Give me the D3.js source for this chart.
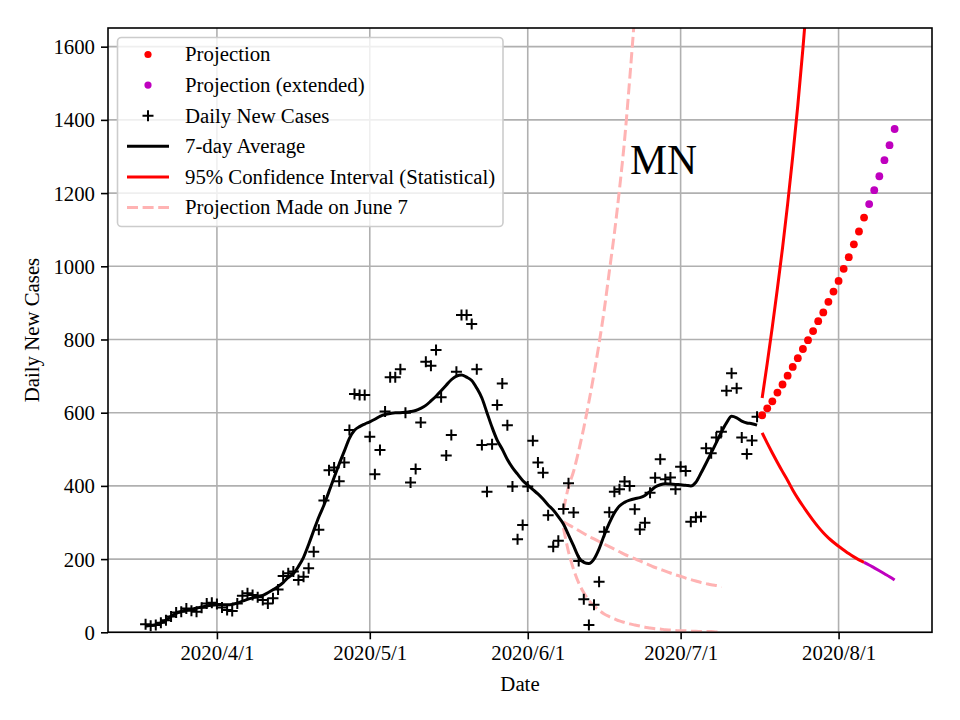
<!DOCTYPE html>
<html><head><meta charset="utf-8">
<script src="https://cdn.jsdelivr.net/npm/d3@7"></script>
<style>
body{margin:0;background:#fff}
svg{display:block}
svg text{font-family:"Liberation Serif","Times New Roman",serif !important;fill:#000}
</style>
</head><body>
<svg id="chart" width="960" height="720"></svg>
<script>
// ---------------- data (day index 0 = 2020-03-18) ----------------
const startDate = [2020, 2, 18];
const dailyCases = [22,18,20,26,33,43,54,56,65,59, 56,67,79,81,77,68,61,58,79,100,
  107,102,96,88,79,93,117,154,161,166, 143,152,175,
  220,280,360,443,450,413,464,553,
  651,648,648,534,432,498,603,697,697,719,
  600,409,446,573,739,728,771,642,483,539,
  712,867,867,842,719,512,384,514,621,680,
  566,398,254,293,398,523,464,436,320,234,
  250,337,407,327,195,90,20,75,138,275,
  328,384,391,412,400,336,281,299,381,422,
  473,418,423,391,452,441,302,314,316,503,
  489,532,548,660,708,667,532,487,524,589];
const avg7 = [17,19,21,26,33,44,52,57,61,63,
  66,69,72,74,75,75,75,76,80,85,
  90,94,98,101,108,116,125,136,150,160,
  180,205,240,278,315,347,385,423,460,495,
  530,552,562,569,575,582,590,595,598,600,
  600,601,603,606,612,620,632,645,660,675,
  690,700,703,697,688,667,640,600,560,525,
  500,472,450,432,415,402,390,378,364,348,
  334,316,296,266,236,205,191,188,200,228,
  265,298,326,345,355,361,365,368,374,385,
  397,403,406,405,404,403,402,400,410,435,
  462,490,518,547,572,590,586,577,572,570,566];
const projStart = 121;
const projection = [593,612,631,655,677,701,725,749,774,798,823,850,874,903,931,960,993,1025,1060,1095,1133];
const projExtStart = 142;
const projectionExt = [1170,1208,1246,1290,1331,1375];
const ciUpperStart = 121;
const ciUpper = [640,735,835,940,1050,1170,1300,1440,1595,1765,1950];
const ciLowerStart = 121;
const ciLower = [545,517,490,464,439,415,389,366,345,325,306,288,272,258,246,235,225,215,206,198,191];
const ciLowerExtStart = 141;
const ciLowerExt = [191,184,176,168,160,152,143];
const june7Start = 82;
const june7Upper = [335,397,440,496,559,630,706,789,880,985,1090,1210,1345,1510,1690,1890];
const june7Mid = [302,294,286,278,270,262,255,248,241,234,227,220,213,207,201,195,189,183,177,172,167,162,157,153,148,144,140,136,133,130,128,126];
const june7Lower = [285,220,172,135,108,87,72,60,50,43,37,31,27,23,20,17,14,12,10,9,7,6,5,4,4,3,3,2,2,2,1,1];
const lastDay = 147;
const xTickDates = [[2020,3,1],[2020,4,1],[2020,5,1],[2020,6,1],[2020,7,1]];
const xTickLabels = ["2020/4/1","2020/5/1","2020/6/1","2020/7/1","2020/8/1"];
const yTicks = [0,200,400,600,800,1000,1200,1400,1600];
const yMax = 1651;
const legendLabels = ["Projection","Projection (extended)","Daily New Cases","7-day Average","95% Confidence Interval (Statistical)","Projection Made on June 7"];

// ---------------- layout ----------------
const FS = 20.8;
const SERIF = '"Liberation Serif","Times New Roman",serif';
const M = {left:108, right:932, top:28, bottom:632.3};
const RED = "#ff0000", MAG = "#bf00bf", PINK = "#ffb3b3";
const start = new Date(startDate[0], startDate[1], startDate[2]);
const day = i => d3.timeDay.offset(start, i);
const pad = lastDay * 0.05 * 24;
const x = d3.scaleTime()
  .domain([d3.timeHour.offset(start, -pad), d3.timeHour.offset(day(lastDay), pad)])
  .range([M.left, M.right]);
const y = d3.scaleLinear().domain([0, yMax]).range([M.bottom, M.top]);

const svg = d3.select("#chart");
svg.append("defs").append("clipPath").attr("id","clip")
  .append("rect").attr("x",M.left).attr("y",M.top)
  .attr("width",M.right-M.left).attr("height",M.bottom-M.top);

const tickDates = xTickDates.map(d => new Date(d[0], d[1], d[2]));

// grid
const grid = svg.append("g");
grid.selectAll("line.vx").data(tickDates).join("line")
  .attr("x1",d=>x(d)).attr("x2",d=>x(d)).attr("y1",M.top).attr("y2",M.bottom)
  .attr("stroke","#b0b0b0").attr("stroke-width",1.6);
grid.selectAll("line.hy").data(yTicks).join("line")
  .attr("x1",M.left).attr("x2",M.right).attr("y1",d=>y(d)).attr("y2",d=>y(d))
  .attr("stroke","#b0b0b0").attr("stroke-width",1.6);

// axes
const xAxis = d3.axisBottom(x).tickValues(tickDates)
  .tickFormat((d,i)=>xTickLabels[i]).tickSize(7).tickPadding(6);
const gx = svg.append("g").attr("transform",`translate(0,${M.bottom})`).call(xAxis);
const yAxis = d3.axisLeft(y).tickValues(yTicks).tickFormat(d=>String(d)).tickSize(7).tickPadding(6);
const gy = svg.append("g").attr("transform",`translate(${M.left},0)`).call(yAxis);
[gx,gy].forEach(g=>{
  g.attr("font-family",SERIF).attr("font-size",FS);
  g.select(".domain").remove();
  g.selectAll(".tick line").attr("stroke","#000").attr("stroke-width",1.6);
  g.selectAll(".tick text").style("font-family",SERIF).style("font-size",FS+"px").attr("fill","#000");
});
gy.selectAll(".tick text").attr("dy","0.34em");

// series
const plot = svg.append("g").attr("clip-path","url(#clip)");
const smooth = d3.line().x(d=>x(day(d[0]))).y(d=>y(d[1])).curve(d3.curveMonotoneX);
const series = (arr, s) => arr.map((v,i)=>[s+i, v]);

function dashed(arr, s){
  plot.append("path").datum(series(arr,s)).attr("d",smooth)
    .attr("fill","none").attr("stroke",PINK).attr("stroke-width",3)
    .attr("stroke-dasharray","11,4.6");
}
dashed(june7Upper, june7Start);
dashed(june7Mid, june7Start);
dashed(june7Lower, june7Start);

plot.append("path").datum(series(ciUpper,ciUpperStart)).attr("d",smooth)
  .attr("fill","none").attr("stroke",RED).attr("stroke-width",3);
plot.append("path").datum(series(ciLower,ciLowerStart)).attr("d",smooth)
  .attr("fill","none").attr("stroke",RED).attr("stroke-width",3);
plot.append("path").datum(series(ciLowerExt,ciLowerExtStart)).attr("d",smooth)
  .attr("fill","none").attr("stroke",MAG).attr("stroke-width",3);

plot.append("path").datum(series(avg7,0)).attr("d",smooth)
  .attr("fill","none").attr("stroke","#000").attr("stroke-width",3);

const crossPath = "M-5.5,0H5.5M0,-5.5V5.5";
plot.selectAll("path.cross").data(series(dailyCases,0)).join("path")
  .attr("class","cross").attr("d",crossPath)
  .attr("transform",d=>`translate(${x(day(d[0]))},${y(d[1])})`)
  .attr("stroke","#000").attr("stroke-width",2).attr("fill","none");

plot.selectAll("circle.proj").data(series(projection,projStart)).join("circle")
  .attr("class","proj").attr("cx",d=>x(day(d[0]))).attr("cy",d=>y(d[1]))
  .attr("r",3.9).attr("fill",RED);
plot.selectAll("circle.projx").data(series(projectionExt,projExtStart)).join("circle")
  .attr("class","projx").attr("cx",d=>x(day(d[0]))).attr("cy",d=>y(d[1]))
  .attr("r",3.9).attr("fill",MAG);

// frame
svg.append("rect").attr("x",M.left).attr("y",M.top)
  .attr("width",M.right-M.left).attr("height",M.bottom-M.top)
  .attr("fill","none").attr("stroke","#000").attr("stroke-width",1.6);

// labels
svg.append("text").attr("x",(M.left+M.right)/2).attr("y",691)
  .attr("text-anchor","middle").attr("font-size",FS).text("Date");
svg.append("text").attr("transform",`translate(39,330) rotate(-90)`)
  .attr("text-anchor","middle").attr("font-size",FS).text("Daily New Cases");
svg.append("text").attr("x",630).attr("y",174).attr("font-size",41.6).text("MN");

// legend
const lg = svg.append("g");
lg.append("rect").attr("x",117.5).attr("y",37.5).attr("width",385.5).attr("height",189)
  .attr("rx",4).attr("fill","#fff").attr("fill-opacity",0.8)
  .attr("stroke","#cccccc").attr("stroke-width",1.6);
const rowY = i => 54.5 + i*30.6;
const hx0 = 127, hx1 = 169, hxc = 148;
legendLabels.forEach((t,i)=>{
  lg.append("text").attr("x",185).attr("y",rowY(i)).attr("dy","0.33em")
    .attr("font-size",FS).text(t);
});
lg.append("circle").attr("cx",hxc).attr("cy",rowY(0)).attr("r",3.6).attr("fill",RED);
lg.append("circle").attr("cx",hxc).attr("cy",rowY(1)).attr("r",3.6).attr("fill",MAG);
lg.append("path").attr("d",crossPath).attr("transform",`translate(${hxc},${rowY(2)})`)
  .attr("stroke","#000").attr("stroke-width",2);
lg.append("line").attr("x1",hx0).attr("x2",hx1).attr("y1",rowY(3)).attr("y2",rowY(3))
  .attr("stroke","#000").attr("stroke-width",3);
lg.append("line").attr("x1",hx0).attr("x2",hx1).attr("y1",rowY(4)).attr("y2",rowY(4))
  .attr("stroke",RED).attr("stroke-width",3);
lg.append("line").attr("x1",hx0).attr("x2",hx1).attr("y1",rowY(5)).attr("y2",rowY(5))
  .attr("stroke",PINK).attr("stroke-width",3).attr("stroke-dasharray","11,4.6");
</script>
</body></html>
